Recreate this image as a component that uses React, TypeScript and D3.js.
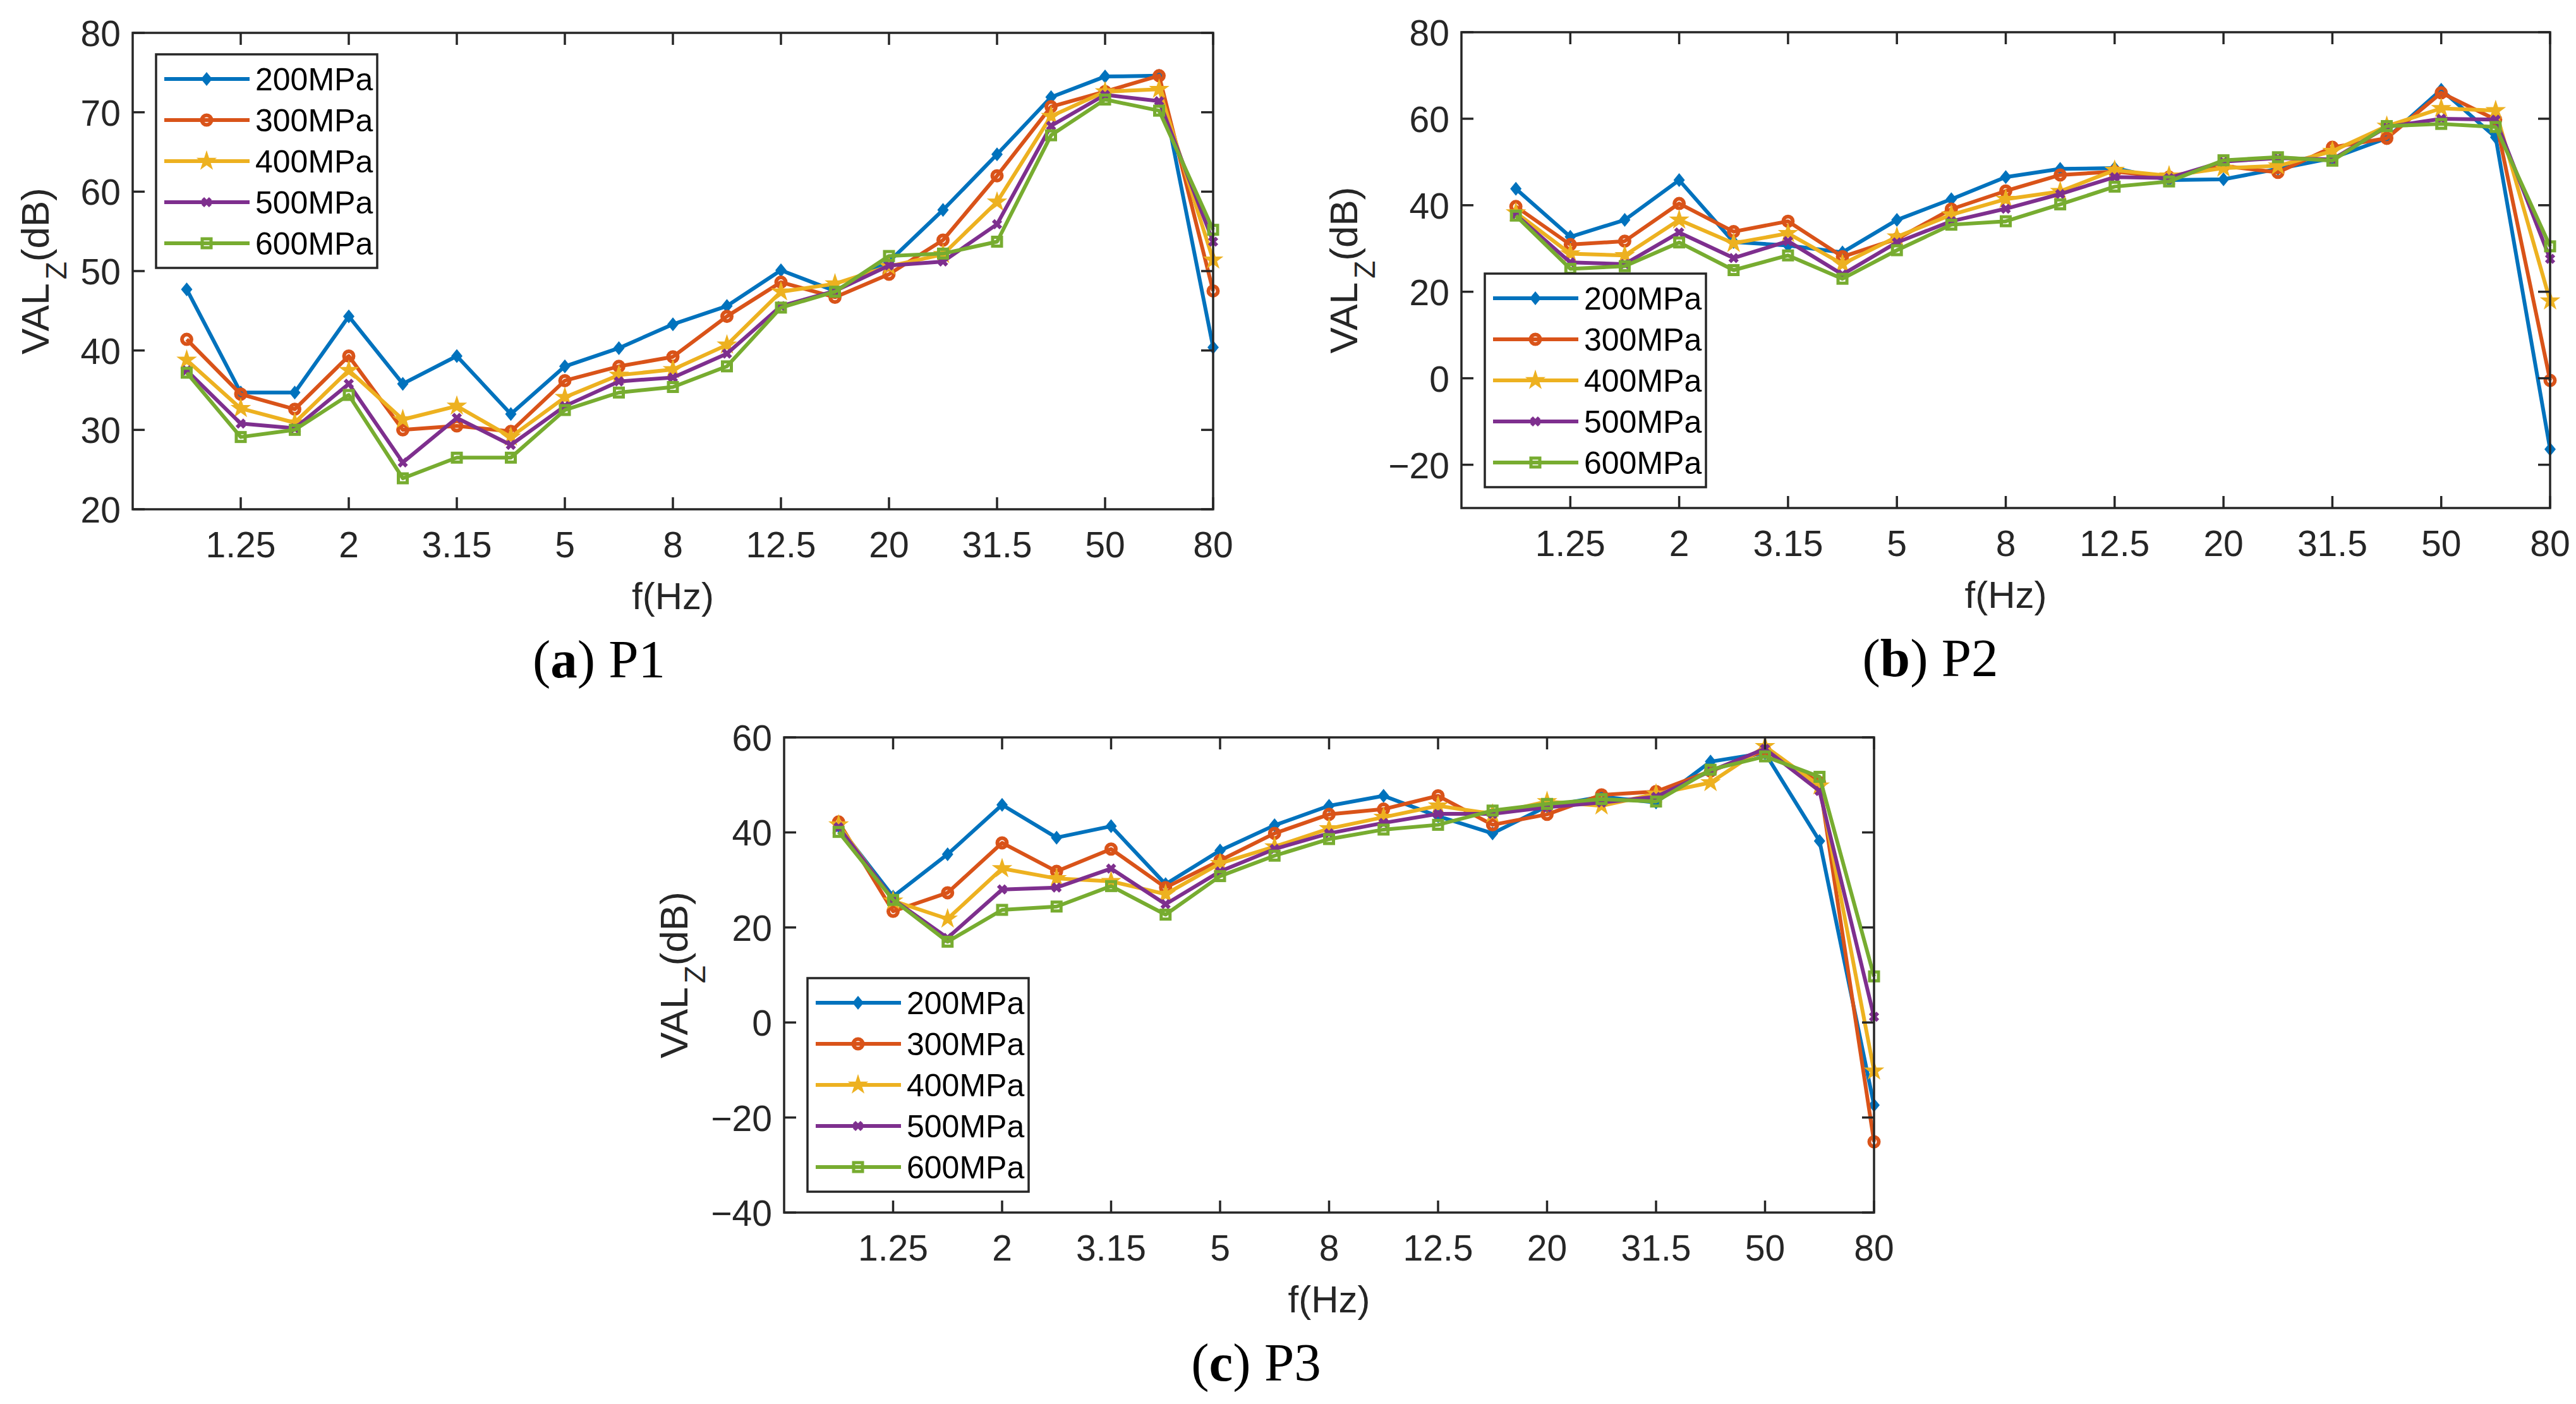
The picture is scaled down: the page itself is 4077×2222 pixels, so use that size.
import * as d3 from 'd3'

// third-octave band centres, plotted at index 1..20
const freqs = ['1', '1.25', '1.6', '2', '2.5', '3.15', '4', '5', '6.3', '8', '10', '12.5', '16', '20', '25', '31.5', '40', '50', '63', '80']
const tickIdx = [2, 4, 6, 8, 10, 12, 14, 16, 18, 20]
const seriesNames = ['200MPa', '300MPa', '400MPa', '500MPa', '600MPa']
const colors = ['#0072BD', '#D95319', '#EDB120', '#7E2F8E', '#77AC30']
const markers = ['diamond', 'circle', 'star', 'x', 'square']

// P1
const p1_200 = [47.7, 34.7, 34.7, 44.3, 35.8, 39.3, 32.0, 38.0, 40.3, 43.3, 45.6, 50.1, 47.5, 51.2, 57.7, 64.7, 71.9, 74.5, 74.6, 40.4]
const p1_300 = [41.4, 34.5, 32.6, 39.3, 30.0, 30.5, 29.8, 36.2, 38.0, 39.2, 44.3, 48.6, 46.7, 49.6, 53.9, 62.0, 70.7, 72.6, 74.6, 47.5]
const p1_400 = [38.8, 32.7, 30.9, 37.5, 31.3, 33.0, 29.1, 34.1, 36.9, 37.6, 40.7, 47.4, 48.4, 50.6, 52.1, 58.7, 69.5, 72.6, 72.9, 51.4]
const p1_500 = [37.5, 30.8, 30.2, 35.8, 25.9, 31.5, 28.1, 33.0, 36.1, 36.6, 39.6, 45.6, 47.5, 50.7, 51.2, 55.9, 68.3, 72.2, 71.4, 53.7]
const p1_600 = [37.2, 29.1, 30.0, 34.4, 23.9, 26.5, 26.5, 32.5, 34.7, 35.4, 38.0, 45.4, 47.4, 51.9, 52.2, 53.7, 67.1, 71.6, 70.2, 55.2]

// P2
const p2_200 = [43.8, 32.7, 36.6, 45.8, 31.5, 30.7, 29.1, 36.6, 41.4, 46.5, 48.4, 48.6, 45.8, 46.0, 48.4, 50.9, 55.5, 66.7, 55.7, -16.4]
const p2_300 = [39.7, 30.9, 31.7, 40.4, 33.9, 36.3, 28.1, 32.2, 39.1, 43.3, 47.0, 47.8, 46.5, 49.1, 47.6, 53.4, 55.5, 66.0, 59.8, -0.5]
const p2_400 = [38.3, 28.8, 28.4, 36.6, 31.2, 33.5, 26.4, 32.7, 37.8, 41.4, 43.2, 48.1, 46.8, 48.6, 49.1, 52.5, 58.3, 62.4, 61.9, 17.9]
const p2_500 = [37.8, 26.8, 26.4, 33.7, 27.8, 31.7, 24.0, 31.4, 36.3, 39.2, 42.6, 46.5, 46.3, 50.1, 50.9, 50.6, 58.1, 60.0, 59.8, 27.6]
const p2_600 = [37.6, 25.3, 25.9, 31.4, 25.0, 28.4, 23.0, 29.6, 35.5, 36.3, 40.2, 44.3, 45.5, 50.4, 51.1, 50.3, 58.3, 58.8, 58.1, 30.5]

// P3
const p3_200 = [41.3, 26.5, 35.4, 45.8, 38.9, 41.3, 29.1, 36.2, 41.5, 45.6, 47.7, 43.4, 39.8, 45.5, 47.5, 46.3, 54.9, 56.7, 38.2, -17.4]
const p3_300 = [42.2, 23.4, 27.3, 37.8, 31.8, 36.5, 28.4, 34.1, 39.8, 43.8, 44.9, 47.7, 41.6, 43.8, 47.9, 48.6, 52.9, 57.2, 50.5, -25.1]
const p3_400 = [41.6, 25.6, 21.8, 32.4, 30.3, 29.7, 27.0, 33.5, 37.0, 40.8, 43.2, 45.6, 43.9, 46.5, 45.6, 48.1, 50.5, 58.1, 49.8, -10.2]
const p3_500 = [41.1, 25.9, 17.8, 28.0, 28.4, 32.4, 24.9, 31.8, 36.5, 39.8, 42.0, 43.9, 43.9, 45.3, 46.3, 47.5, 52.9, 57.6, 48.7, 1.2]
const p3_600 = [40.1, 25.8, 17.0, 23.7, 24.4, 28.7, 22.7, 30.8, 35.1, 38.6, 40.6, 41.6, 44.6, 46.0, 47.0, 46.5, 53.2, 56.0, 51.7, 9.7]

const p1Ticks = [20, 30, 40, 50, 60, 70, 80]
const p2Ticks = [-20, 0, 20, 40, 60, 80]
const p3Ticks = [-40, -20, 0, 20, 40, 60]

const AX = '#262626'
const SANS = '"Liberation Sans", Arial, Helvetica, sans-serif'
const SERIF = '"Liberation Serif", "Times New Roman", serif'

function Marker({ kind, x, y, color }: { kind: string; x: number; y: number; color: string }) {
  const t = `translate(${x},${y})`
  if (kind === 'diamond') return <path transform={t} d="M0,-11L9,0L0,11L-9,0Z" fill={color} />
  if (kind === 'circle') return <circle cx={x} cy={y} r={7.5} fill="none" stroke={color} strokeWidth={6} />
  if (kind === 'star') return <path transform={t} d={d3.symbol(d3.symbolStar, 330)() ?? ''} fill={color} />
  if (kind === 'x') return <path transform={t} d="M-6,-6L6,6M-6,6L6,-6" stroke={color} strokeWidth={6} />
  return <rect x={x - 7} y={y - 7} width={14} height={14} fill="none" stroke={color} strokeWidth={5} />
}

type PanelProps = {
  series: number[][]
  yDomain: [number, number]
  yTicks: number[]
  left: number
  right: number
  top: number
  bottom: number
  legendTop: number
  ylabelX: number
  letter: string
  name: string
  captionX: number
}

function Panel({ series, yDomain, yTicks, left, right, top, bottom, legendTop, ylabelX, letter, name, captionX }: PanelProps) {
  const x = d3.scaleLinear().domain([0, 20]).range([left, right])
  const y = d3.scaleLinear().domain(yDomain).range([bottom, top])
  const line = d3.line<number>().x((_, i) => x(i + 1)).y((d) => y(d))
  const fmt = (v: number) => (v < 0 ? '\u2212' + Math.abs(v) : String(v))
  const lgLeft = left + 37
  const cy = (top + bottom) / 2

  return (
    <g>
      {/* series */}
      {series.map((s, k) => (
        <g key={k}>
          <path d={line(s) ?? ''} fill="none" stroke={colors[k]} strokeWidth={6} strokeLinejoin="round" />
          {s.map((v, i) => <Marker key={i} kind={markers[k]} x={x(i + 1)} y={y(v)} color={colors[k]} />)}
        </g>
      ))}

      {/* axes box and ticks */}
      <rect x={left} y={top} width={right - left} height={bottom - top} fill="none" stroke={AX} strokeWidth={3.5} />
      {tickIdx.map((t, i) => (
        <g key={i}>
          <line x1={x(t)} x2={x(t)} y1={bottom} y2={bottom - 19} stroke={AX} strokeWidth={3.5} />
          <line x1={x(t)} x2={x(t)} y1={top} y2={top + 19} stroke={AX} strokeWidth={3.5} />
          <text x={x(t)} y={bottom + 76} textAnchor="middle" fontSize={57} fontFamily={SANS} fill={AX}>{freqs[t - 1]}</text>
        </g>
      ))}
      {yTicks.map((t) => (
        <g key={t}>
          <line x1={left} x2={left + 19} y1={y(t)} y2={y(t)} stroke={AX} strokeWidth={3.5} />
          <line x1={right} x2={right - 19} y1={y(t)} y2={y(t)} stroke={AX} strokeWidth={3.5} />
          <text x={left - 19} y={y(t) + 21} textAnchor="end" fontSize={57} fontFamily={SANS} fill={AX}>{fmt(t)}</text>
        </g>
      ))}

      {/* axis labels */}
      <text x={(left + right) / 2} y={bottom + 158} textAnchor="middle" fontSize={60} fontFamily={SANS} fill={AX}>f(Hz)</text>
      <text transform={`translate(${ylabelX},${cy}) rotate(-90)`} textAnchor="middle" fontSize={62} fontFamily={SANS} fill={AX}>
        <tspan>VAL</tspan>
        <tspan dx={6} dy={28} fontSize={46}>Z</tspan>
        <tspan dy={-28}>(dB)</tspan>
      </text>

      {/* legend */}
      <rect x={lgLeft} y={legendTop} width={350} height={338} fill="#fff" stroke={AX} strokeWidth={3.5} />
      {seriesNames.map((n, k) => {
        const ly = legendTop + 39 + k * 65
        return (
          <g key={n}>
            <line x1={lgLeft + 13} x2={lgLeft + 148} y1={ly} y2={ly} stroke={colors[k]} strokeWidth={6} />
            <Marker kind={markers[k]} x={lgLeft + 80} y={ly} color={colors[k]} />
            <text x={lgLeft + 157} y={ly + 18} fontSize={50} fontFamily={SANS} fill="#000">{n}</text>
          </g>
        )
      })}

      {/* caption */}
      <text x={captionX} y={bottom + 266} textAnchor="middle" fontSize={85} fontFamily={SERIF} fill="#000">
        (<tspan fontWeight="bold">{letter}</tspan>) {name}
      </text>
    </g>
  )
}

export default function App() {
  return (
    <div style={{ position: 'absolute', left: 0, top: 0 }}>
      <svg width={4077} height={2222} style={{ display: 'block', background: '#fff' }}>
        <Panel
          series={[p1_200, p1_300, p1_400, p1_500, p1_600]}
          yDomain={[20, 80]} yTicks={p1Ticks}
          left={210} right={1920} top={52} bottom={806}
          legendTop={86} ylabelX={77}
          letter="a" name="P1" captionX={948}
        />
        <Panel
          series={[p2_200, p2_300, p2_400, p2_500, p2_600]}
          yDomain={[-30, 80]} yTicks={p2Ticks}
          left={2313} right={4036} top={51} bottom={804}
          legendTop={433} ylabelX={2148}
          letter="b" name="P2" captionX={3055}
        />
        <Panel
          series={[p3_200, p3_300, p3_400, p3_500, p3_600]}
          yDomain={[-40, 60]} yTicks={p3Ticks}
          left={1241} right={2966} top={1167} bottom={1919}
          legendTop={1548} ylabelX={1088}
          letter="c" name="P3" captionX={1988}
        />
      </svg>
    </div>
  )
}
